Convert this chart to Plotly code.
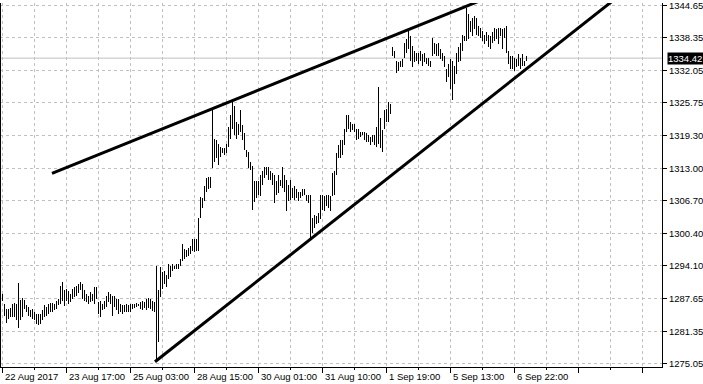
import plotly.graph_objects as go

# ---- data (H/L per bar) ----
highs = [
    1288.5, 1286.7, 1285.7, 1285.7, 1285.9, 1286.7, 1286.9, 1286.7, 1290.7, 1287.5,
    1287.8, 1287.5, 1286.4, 1286.0, 1285.5, 1285.7, 1285.1, 1284.8, 1284.8, 1284.8,
    1285.5, 1286.4, 1286.0, 1286.7, 1286.8, 1286.9, 1286.7, 1287.3, 1287.6, 1290.2,
    1291.0, 1289.3, 1289.6, 1289.1, 1288.6, 1289.6, 1290.0, 1290.2, 1290.5, 1291.0,
    1290.5, 1289.3, 1288.5, 1288.3, 1288.9, 1288.6, 1289.9, 1289.9, 1287.0, 1287.3,
    1286.7, 1287.3, 1288.3, 1288.9, 1288.6, 1288.3, 1288.3, 1287.6, 1287.6, 1286.7,
    1286.4, 1286.4, 1286.7, 1286.4, 1286.7, 1286.7, 1286.7, 1286.8, 1286.7,
    1287.0, 1287.3, 1287.0, 1287.6, 1287.9, 1287.6, 1287.3, 1287.1,
    1294.1, 1289.3, 1293.8, 1292.8, 1293.1, 1292.2, 1294.4, 1294.1, 1294.4, 1294.1,
    1294.4, 1294.4, 1295.4, 1298.3, 1297.3, 1297.1, 1297.6, 1297.9, 1299.2, 1299.2,
    1299.2, 1303.4, 1307.4, 1307.3, 1309.5, 1311.1, 1311.4, 1311.4, 1324.3, 1318.8,
    1318.5, 1317.8, 1317.2, 1316.9, 1316.9, 1317.8, 1321.0, 1323.3, 1325.9, 1325.2,
    1322.0, 1321.7, 1324.3, 1321.4, 1319.8, 1316.6, 1316.2, 1314.3, 1313.5, 1310.5,
    1310.5, 1310.5,
    1311.7, 1312.4, 1313.2, 1313.2, 1313.2, 1312.4, 1312.1, 1311.7, 1310.5, 1311.7,
    1310.8, 1313.3, 1311.7, 1310.8, 1309.8, 1310.8, 1309.2, 1309.5, 1308.9, 1308.5,
    1308.5, 1308.9, 1308.9, 1307.9, 1307.9, 1307.9, 1303.4, 1304.0, 1303.7, 1304.4,
    1307.9, 1307.9, 1307.6, 1307.9, 1307.9, 1307.6, 1312.1, 1312.4, 1315.9, 1317.5,
    1318.5, 1318.5, 1320.7, 1323.3, 1323.3, 1322.0, 1321.7, 1321.7, 1320.7, 1320.7,
    1320.1, 1320.1, 1320.1, 1319.8, 1319.5, 1319.1, 1319.5, 1319.5, 1321.1, 1328.8,
    1322.7, 1320.4, 1324.3, 1324.6, 1325.9, 1325.6,
    1336.5, 1335.8, 1333.9, 1333.6, 1333.9, 1334.2, 1337.4, 1338.1, 1339.7, 1338.7,
    1336.8, 1335.8, 1335.5, 1335.5, 1335.8, 1335.2, 1335.5, 1334.5, 1334.5, 1333.9,
    1338.4, 1337.4, 1337.1, 1337.4, 1336.1, 1335.5, 1334.9, 1332.3, 1333.3, 1334.2,
    1333.9, 1332.9, 1335.5, 1336.5, 1337.4, 1339.0, 1338.7, 1344.2, 1342.9, 1341.6,
    1342.2, 1342.6, 1342.2, 1340.6, 1340.3, 1339.7, 1339.0, 1339.4, 1339.0, 1338.7,
    1339.4, 1340.3, 1340.0, 1340.3, 1340.3, 1340.0, 1340.3, 1340.6, 1335.8, 1334.9,
    1334.9, 1334.5, 1334.2, 1335.2, 1334.5, 1335.2, 1333.9, 1334.9,
]
lows = [
    1287.3, 1284.4, 1283.0, 1283.8, 1284.1, 1284.2, 1284.1, 1283.6, 1281.9, 1283.5,
    1284.1, 1285.7, 1285.1, 1284.4, 1284.1, 1283.8, 1283.5, 1282.7, 1282.5, 1282.7,
    1283.5, 1284.1, 1284.4, 1284.8, 1285.1, 1285.1, 1285.4, 1285.7, 1286.4, 1286.7,
    1287.3, 1286.2, 1287.3, 1286.7, 1287.0, 1287.6, 1288.0, 1288.3, 1288.7, 1289.3,
    1287.6, 1287.3, 1287.0, 1286.7, 1287.0, 1287.3, 1286.7, 1287.6, 1284.8, 1284.1,
    1285.4, 1285.7, 1286.0, 1287.0, 1286.7, 1284.4, 1286.0, 1285.4, 1284.8, 1285.1,
    1284.8, 1285.1, 1285.1, 1285.1, 1285.1, 1285.7, 1285.9, 1286.0, 1286.2,
    1285.6, 1285.5, 1285.8, 1285.4, 1285.9, 1285.6, 1285.2, 1285.0,
    1275.5, 1279.3, 1288.0, 1289.6, 1290.6, 1289.9, 1291.5, 1291.8, 1293.1, 1293.4,
    1293.4, 1293.4, 1294.1, 1295.1, 1295.4, 1295.7, 1296.0, 1296.3, 1297.0, 1296.7,
    1297.0, 1297.0, 1303.4, 1305.3, 1306.6, 1308.5, 1308.9, 1309.2, 1313.0, 1314.3,
    1315.0, 1313.7, 1315.3, 1315.9, 1315.6, 1315.9, 1317.2, 1318.8, 1320.7, 1319.4,
    1318.8, 1319.4, 1320.1, 1318.5, 1316.6, 1315.3, 1313.0, 1312.7, 1305.0, 1306.5,
    1307.2, 1307.9,
    1307.6, 1309.8, 1311.1, 1311.7, 1310.8, 1310.8, 1309.8, 1306.3, 1307.9, 1308.2,
    1309.5, 1309.2, 1308.5, 1304.7, 1306.6, 1306.9, 1307.2, 1306.9, 1307.2, 1306.6,
    1307.2, 1307.6, 1307.9, 1306.6, 1306.3, 1299.2, 1300.5, 1301.5, 1302.1, 1302.4,
    1303.1, 1305.0, 1304.7, 1305.6, 1305.3, 1304.7, 1307.6, 1307.9, 1311.7, 1315.0,
    1315.0, 1315.6, 1317.5, 1320.1, 1320.7, 1320.1, 1320.4, 1320.1, 1318.5, 1318.8,
    1319.1, 1319.5, 1318.5, 1318.2, 1318.2, 1317.5, 1318.2, 1317.5, 1317.2, 1317.8,
    1316.9, 1316.2, 1320.7, 1322.0, 1322.0, 1323.6,
    1334.9, 1334.5, 1331.6, 1331.9, 1332.6, 1332.6, 1334.5, 1335.5, 1336.1, 1333.9,
    1332.6, 1333.6, 1333.9, 1333.3, 1333.9, 1332.9, 1333.6, 1333.3, 1332.9, 1332.6,
    1334.9, 1335.2, 1334.9, 1334.9, 1334.2, 1333.9, 1332.6, 1329.7, 1330.7, 1328.4,
    1326.2, 1329.4, 1331.3, 1333.6, 1333.9, 1335.8, 1337.7, 1337.7, 1338.1, 1339.4,
    1338.7, 1340.0, 1339.0, 1338.7, 1338.4, 1337.7, 1337.1, 1337.7, 1336.5, 1336.1,
    1337.4, 1337.7, 1338.1, 1337.1, 1338.7, 1336.1, 1338.4, 1335.5, 1333.3, 1332.3,
    1332.3, 1332.0, 1332.6, 1332.9, 1332.3, 1332.9, 1332.9, 1333.9,
]
assert len(highs) == len(lows)
bar_index = list(range(len(highs)))

y_ticks = [1275.05, 1281.35, 1287.65, 1294.10, 1300.40, 1306.70,
           1313.00, 1319.30, 1325.75, 1332.05, 1338.35, 1344.65]
x_tick_labels = ["22 Aug 2017", "23 Aug 17:00", "25 Aug 03:00", "28 Aug 15:00",
                 "30 Aug 01:00", "31 Aug 10:00", "1 Sep 19:00", "5 Sep 13:00", "6 Sep 22:00"]
x_tick_pos = [0, 32, 64, 96, 128, 160, 192, 224, 256]

upper_line_x = [25, 239]
upper_line_y = [1312.04, 1345.57]
lower_line_x = [76.5, 309]
lower_line_y = [1275.43, 1346.67]
current_price = 1334.42

FONT = dict(family="Liberation Sans", size=9.5, color="black")

fig = go.Figure()
fig.add_trace(go.Bar(
    x=bar_index, base=lows, y=[h - l for h, l in zip(highs, lows)],
    width=0.5, offset=0, marker=dict(color="black", line=dict(width=0)),
    hoverinfo="skip"))
fig.add_trace(go.Scatter(x=upper_line_x, y=upper_line_y, mode="lines",
                         line=dict(color="black", width=3), hoverinfo="skip"))
fig.add_trace(go.Scatter(x=lower_line_x, y=lower_line_y, mode="lines",
                         line=dict(color="black", width=3), hoverinfo="skip"))

fig.add_shape(type="line", xref="paper", x0=0, x1=1, yref="y",
              y0=current_price, y1=current_price,
              line=dict(color="#c0c0c0", width=1), layer="below")
fig.add_shape(type="line", xref="paper", x0=0.0008, x1=0.0008, yref="paper",
              y0=0, y1=1, line=dict(color="black", width=1))

for pos, lab in zip(x_tick_pos, x_tick_labels):
    fig.add_annotation(x=pos, xref="x", y=0, yref="paper", text=lab,
                       xanchor="left", yanchor="top", xshift=1, yshift=-2,
                       showarrow=False, font=FONT)

fig.add_annotation(x=1, xref="paper", y=current_price, yref="y",
                   text=f"{current_price:.2f}", xanchor="left", yanchor="middle",
                   xshift=5, width=36, align="left", borderpad=0,
                   bgcolor="black", showarrow=False,
                   font=dict(family="Liberation Sans", size=9.5, color="white"))

fig.update_layout(width=703, height=384, margin=dict(l=0, r=41, t=0, b=17),
                  paper_bgcolor="white", plot_bgcolor="white",
                  showlegend=False, bargap=0)
fig.update_xaxes(range=[-1, 330], tickmode="linear", tick0=0, dtick=32,
                 showticklabels=False, showgrid=True, gridcolor="#c0c0c0",
                 griddash="3px,3px", gridwidth=1, ticks="outside", ticklen=5,
                 tickcolor="black", showline=True, linecolor="black",
                 linewidth=1, zeroline=False,
                 minor=dict(tick0=0, dtick=16, showgrid=True, gridcolor="#c0c0c0",
                            griddash="3px,3px", ticks="outside", ticklen=2,
                            tickcolor="black"))
fig.update_yaxes(side="right", range=[1274.41, 1345.13], tickmode="array",
                 tickvals=y_ticks, ticktext=[f"{v:.2f}" for v in y_ticks],
                 ticklabeloverflow="allow",
                 showgrid=True, gridcolor="#c0c0c0", griddash="3px,3px",
                 ticks="outside", ticklen=4, tickcolor="black", showline=True,
                 linecolor="black", linewidth=1, zeroline=False, tickfont=FONT)

fig.write_html("out.html")
